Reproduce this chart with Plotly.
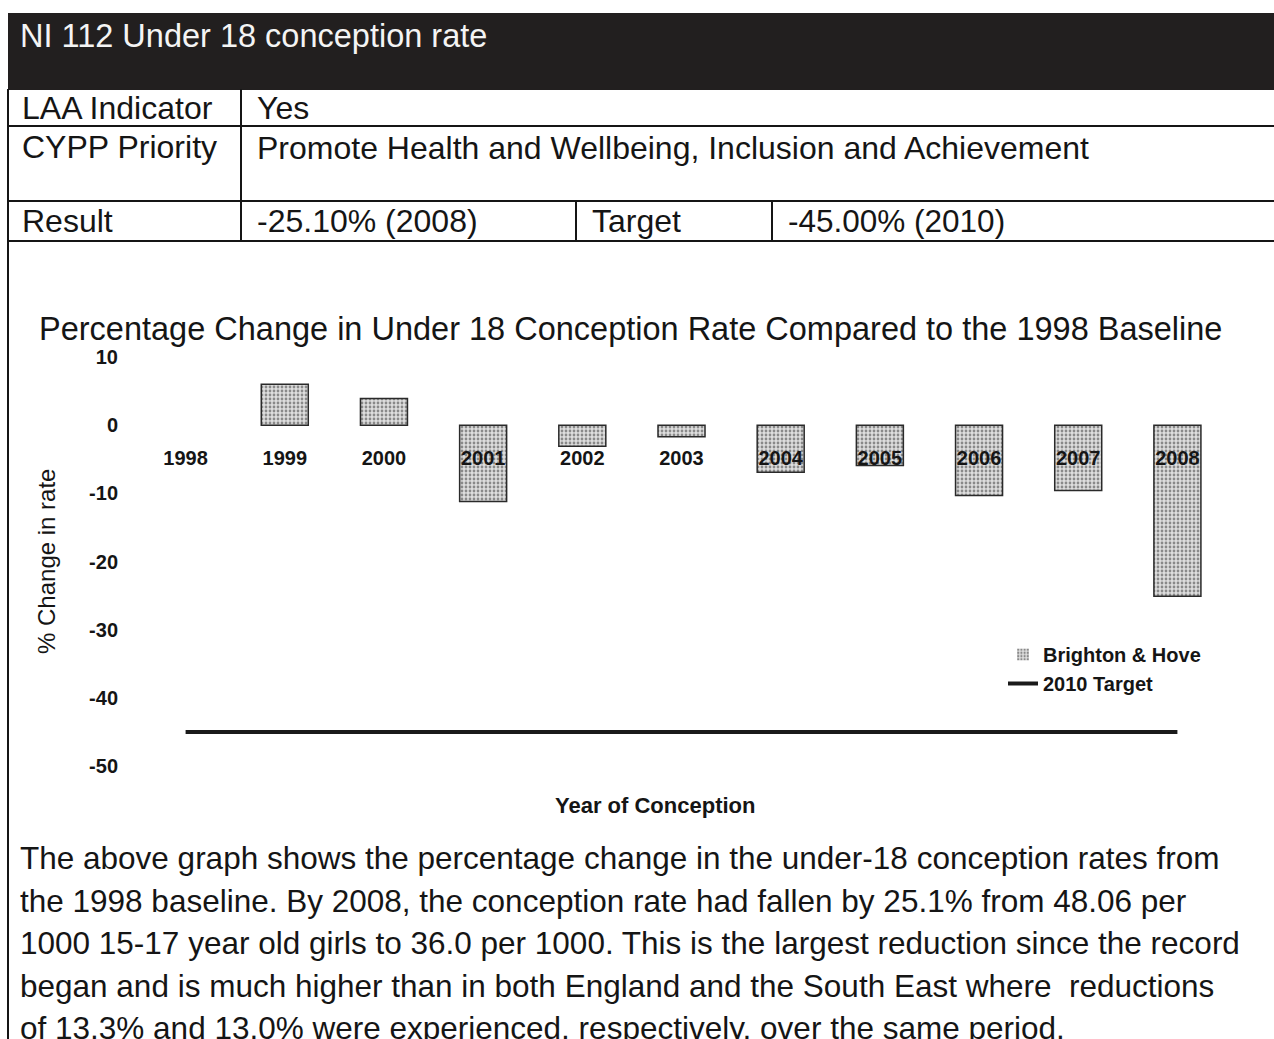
import plotly.graph_objects as go

# ---- data ----
years = ["1998", "1999", "2000", "2001", "2002", "2003", "2004", "2005", "2006", "2007", "2008"]
pct_change = [0, 6.0, 3.9, -11.2, -3.1, -1.7, -6.9, -5.9, -10.3, -9.6, -25.1]
target_2010 = [-45] * len(years)
y_tick_vals = [10, 0, -10, -20, -30, -40, -50]
y_tick_text = ["10", "0", "-10", "-20", "-30", "-40", "-50"]

header_title = "NI 112 Under 18 conception rate"
table_rows = [
    ("LAA Indicator", "Yes"),
    ("CYPP Priority", "Promote Health and Wellbeing, Inclusion and Achievement"),
]
result_label, result_value = "Result", "-25.10% (2008)"
target_label, target_value = "Target", "-45.00% (2010)"
chart_title = "Percentage Change in Under 18 Conception Rate Compared to the 1998 Baseline"
paragraph = [
    "The above graph shows the percentage change in the under-18 conception rates from",
    "the 1998 baseline. By 2008, the conception rate had fallen by 25.1% from 48.06 per",
    "1000 15-17 year old girls to 36.0 per 1000. This is the largest reduction since the record",
    "began and is much higher than in both England and the South East where  reductions",
    "of 13.3% and 13.0% were experienced, respectively, over the same period.",
]

# ---- layout geometry (pixels) ----
W, H = 1274, 1039
L, R, T, B = 136, 1227, 357, 766
FONT = "Liberation Sans, Arial, sans-serif"
INK = "#151515"


def px(x):
    return (x - L) / (R - L)


def py(y):
    return (B - y) / (B - T)


fig = go.Figure()
fig.add_trace(go.Bar(
    x=years, y=pct_change, name="Brighton & Hove",
    marker=dict(color="#d0d0d0",
                line=dict(color="#2a2a2a", width=[0 if v == 0 else 1.5 for v in pct_change]),
                pattern=dict(shape=".", fgcolor="#333333", bgcolor="#dedede",
                             size=4, solidity=0.38)),
))
fig.add_trace(go.Scatter(
    x=years, y=target_2010, name="2010 Target", mode="lines",
    line=dict(color="#1a1a1a", width=4),
))

shapes = []
# black header bar
shapes.append(dict(type="rect", xref="paper", yref="paper",
                   x0=px(8), x1=px(W + 10), y0=py(90), y1=py(13),
                   fillcolor="#221f1f", line=dict(width=0), layer="below"))
line_style = dict(color=INK, width=2)
for yy in (126, 201, 241):
    shapes.append(dict(type="line", xref="paper", yref="paper",
                       x0=px(8), x1=px(W + 10), y0=py(yy), y1=py(yy), line=line_style))
shapes.append(dict(type="line", xref="paper", yref="paper",
                   x0=px(8), x1=px(8), y0=py(89), y1=py(H + 10), line=line_style))
shapes.append(dict(type="line", xref="paper", yref="paper",
                   x0=px(241), x1=px(241), y0=py(89), y1=py(241), line=line_style))
for xx in (576, 772):
    shapes.append(dict(type="line", xref="paper", yref="paper",
                       x0=px(xx), x1=px(xx), y0=py(201), y1=py(241), line=line_style))

ann = []


def text(x, y, s, size, color=INK, bold=False, anchor="left", angle=0):
    ann.append(dict(xref="paper", yref="paper", x=px(x), y=py(y), text=("<b>%s</b>" % s) if bold else s,
                    showarrow=False, xanchor=anchor, yanchor="middle", textangle=angle,
                    font=dict(family=FONT, size=size, color=color)))


text(18, 36, header_title, 32.5, color="#f4f4f4")
text(20, 108, table_rows[0][0], 32)
text(255, 108, table_rows[0][1], 32)
text(20, 147, table_rows[1][0], 32)
text(255, 148, table_rows[1][1], 32)
text(20, 221, result_label, 32)
text(255, 221, result_value, 32)
text(590, 221, target_label, 32)
text(786, 221, target_value, 31.5)
text(630, 329, chart_title, 32.5, anchor="center")
text(46, 562, "% Change in rate", 24, anchor="center", angle=-90)
text(655, 805, "Year of Conception", 22, bold=True, anchor="center")
for i, line in enumerate(paragraph):
    text(18, 858 + i * 42.5, line, 31.5)

fig.update_layout(
    width=W, height=H,
    margin=dict(l=L, r=W - R, t=T, b=H - B, pad=0),
    paper_bgcolor="white", plot_bgcolor="white",
    bargap=0.526,
    shapes=shapes, annotations=ann,
    showlegend=True,
    legend=dict(x=px(1003), y=py(635), xanchor="left", yanchor="top",
                font=dict(family=FONT, size=20, color=INK, weight="bold"),
                bgcolor="rgba(0,0,0,0)", tracegroupgap=0),
    xaxis=dict(type="category", anchor="free", position=50 / 60,
               showline=False, showgrid=False, zeroline=False,
               ticks="outside", ticklen=15, tickcolor="rgba(0,0,0,0)",
               tickfont=dict(family=FONT, size=20, color=INK, weight="bold")),
    yaxis=dict(range=[-50, 10], tickvals=y_tick_vals, ticktext=y_tick_text,
               showline=False, showgrid=False, zeroline=False,
               ticks="outside", ticklen=13, tickcolor="rgba(0,0,0,0)",
               tickfont=dict(family=FONT, size=20, color=INK, weight="bold")),
)

fig.write_html("out.html", config={"displayModeBar": False},
               post_script="document.body.style.margin='0px';")
